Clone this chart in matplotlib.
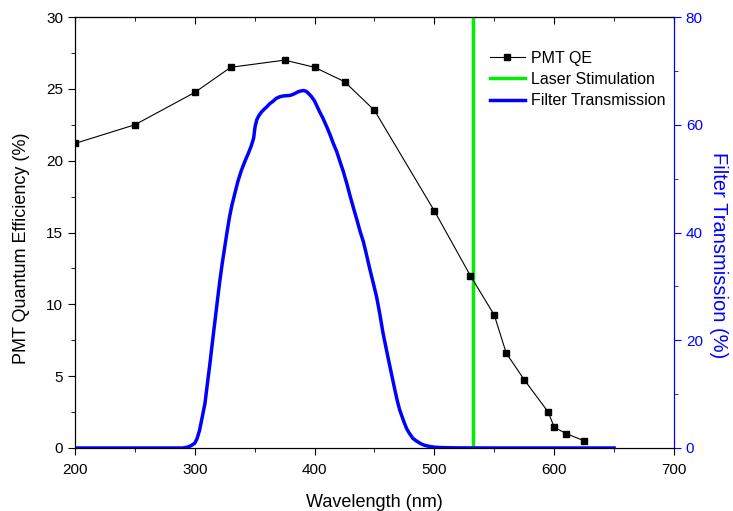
import matplotlib
matplotlib.use('Agg')
import matplotlib.pyplot as plt
from matplotlib.ticker import MultipleLocator

plt.rcParams['font.family'] = ['Liberation Sans', 'DejaVu Sans']

# PMT quantum efficiency (%), sampled points
qe_wl = [200, 250, 300, 330, 375, 400, 425, 450, 500, 530, 550, 560, 575, 595, 600, 610, 625]
qe_val = [21.2, 22.5, 24.75, 26.5, 27.0, 26.5, 25.5, 23.5, 16.5, 12.0, 9.25, 6.6, 4.75, 2.5, 1.45, 1.0, 0.5]

# filter transmission (%)
ft_wl = [200, 250, 290, 294.6, 297, 300, 302, 304, 306, 308.5, 310.5, 312.7, 314.8, 316.9,
         319, 321, 323, 325, 327, 329, 331, 333.5, 336, 339, 342, 344.7, 347, 349.1,
         350.3, 351.7, 353.5, 355.8, 358, 360, 362.5, 365.5, 368, 371, 374, 376.7, 379.5,
         381.5, 383.6, 386, 389, 391, 393, 395, 397.5, 400, 401.7, 404, 407, 410, 413,
         415.5, 418.5, 421, 424, 427, 429.5, 432, 435, 438, 440.7, 443, 446, 449, 451.8,
         454.5, 457, 460, 462.9, 465, 467, 469, 471, 474, 476.8, 479.5, 482, 485, 487.9,
         490.5, 493.5, 497, 500, 505, 510, 520, 550, 600, 650]
ft_val = [0, 0, 0, 0.2, 0.45, 0.9, 1.8, 3.3, 5.5, 8.3, 11.9, 15.8, 19.8, 23.7,
          27.6, 31.2, 34.4, 37.3, 40.2, 42.9, 45.1, 47.3, 49.5, 51.6, 53.3, 54.7, 56.0, 57.5,
          59.6, 60.9, 61.7, 62.4, 62.9, 63.3, 63.9, 64.4, 64.9, 65.2, 65.35, 65.4, 65.45,
          65.6, 65.8, 66.1, 66.3, 66.35, 66.2, 65.8, 65.2, 64.4, 63.6, 62.5, 61.2, 59.7, 58.1,
          56.6, 55.0, 53.3, 51.3, 49.0, 46.9, 44.9, 42.6, 40.2, 38.3, 36.2, 33.3, 30.6, 28.0,
          24.8, 21.5, 18.2, 15.1, 12.9, 10.8, 8.8, 7.1, 5.2, 3.6, 2.6, 1.8, 1.3, 0.9,
          0.6, 0.4, 0.25, 0.15, 0.08, 0.05, 0.02, 0, 0, 0]

laser_wl = 532
laser_span = [0, 30]

fig = plt.figure(figsize=(7.33, 5.11), dpi=100)
ax = fig.add_axes([0.1023, 0.1233, 0.8172, 0.8434])
ax2 = ax.twinx()

l_qe, = ax.plot(qe_wl, qe_val, color='black', lw=0.8, marker='s', ms=4.5,
                label='PMT QE', zorder=4)
l_laser, = ax.plot([laser_wl, laser_wl], laser_span, color='#00ee00', lw=2.5,
                   label='Laser Stimulation', zorder=3)
l_ft, = ax2.plot(ft_wl, ft_val, color='#0000ff', lw=2.5, label='Filter Transmission',
                 solid_joinstyle='round')

ax.set_xlim(200, 700)
ax.set_ylim(0, 30)
ax2.set_ylim(0, 80)

ax.xaxis.set_major_locator(MultipleLocator(100))
ax.xaxis.set_minor_locator(MultipleLocator(50))
ax.yaxis.set_major_locator(MultipleLocator(5))
ax.yaxis.set_minor_locator(MultipleLocator(2.5))
ax2.yaxis.set_major_locator(MultipleLocator(20))
ax2.yaxis.set_minor_locator(MultipleLocator(10))

ax.tick_params(which='major', direction='out', length=5, labelsize=11, top=False, right=False)
ax.tick_params(which='minor', direction='out', length=3, top=False, right=False)
ax.tick_params(axis='x', which='major', pad=6)

top = ax.secondary_xaxis('top')
top.xaxis.set_major_locator(MultipleLocator(100))
top.xaxis.set_minor_locator(MultipleLocator(50))
top.tick_params(which='major', direction='in', length=5, labeltop=False)
top.tick_params(which='minor', direction='in', length=3)

blue = '#0000ff'
ax2.spines['right'].set_color(blue)
ax2.tick_params(which='major', direction='out', length=5, colors=blue, labelsize=11)
ax2.tick_params(which='minor', direction='out', length=3, colors=blue)

ax.set_xlabel('Wavelength (nm)', fontsize=13, labelpad=12)
ax.set_ylabel('PMT Quantum Efficiency (%)', fontsize=13, labelpad=12)
ax.yaxis.label.set_y(0.464)
ax2.set_ylabel('Filter Transmission (%)', fontsize=14.5, color=blue, rotation=270, labelpad=18)
ax2.yaxis.label.set_y(0.448)

ax.legend(handles=[l_qe, l_laser, l_ft], loc='upper right', bbox_to_anchor=(0.997, 0.937),
          borderaxespad=0, frameon=False, fontsize=11.5,
          handlelength=2.2, labelspacing=0.4, handletextpad=0.4)

fig.savefig('out.png', dpi=100)
